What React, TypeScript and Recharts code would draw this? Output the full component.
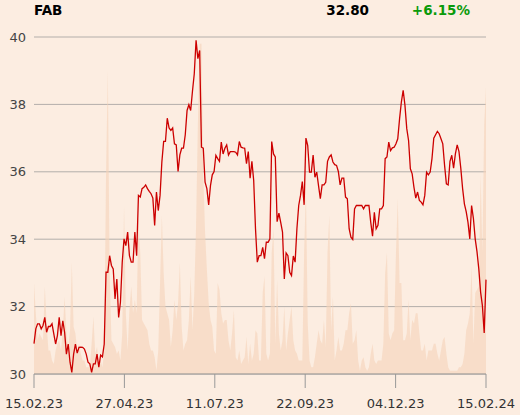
import { ComposedChart, Area, Line, XAxis, YAxis, CartesianGrid } from 'recharts';

// daily closing price, 15.02.23 - 15.02.24
const prices = [
  30.9, 31.34, 31.49, 31.49, 31.34, 31.44, 31.68, 31.24, 31.41, 31.41,
  31.49, 31.19, 30.89, 31.14, 31.68, 31.14, 31.58, 31.24, 30.59, 30.89,
  30.35, 30.05, 30.59, 30.89, 30.62, 30.79, 30.8, 30.79, 30.74, 30.59,
  30.35, 30.3, 30.05, 30.3, 30.3, 30.59, 30.2, 30.56, 30.51, 30.89,
  33.02, 33.02, 33.51, 33.22, 33.12, 32.23, 32.82, 31.68, 32.13, 33.32,
  34.01,
  33.81, 34.21, 33.51, 33.32, 33.32, 34.21, 33.51, 35.3, 35.25, 35.5,
  35.54, 35.61, 35.5, 35.42, 35.35, 35.22, 34.41, 35.4, 34.85, 35.3,
  36.29, 36.9, 36.9, 37.59, 37.3, 37.23, 37.3, 36.83, 36.8, 36.01,
  36.5, 36.7, 36.7, 37.1, 37.82, 37.99, 37.82, 38.39, 38.91, 39.9,
  39.36, 39.6, 36.73, 36.7, 35.69, 35.5, 35.02, 35.59, 35.91, 36.01,
  36.49, 36.39,
  36.31, 36.88, 36.53, 36.7, 36.8, 36.5, 36.6, 36.6, 36.6, 36.58,
  36.5, 36.9, 36.73, 36.71, 36.7, 36.24, 36.6, 35.81, 36.31, 35.74,
  34.31, 33.32, 33.51, 33.51, 33.76, 33.42, 33.91, 33.91, 34.01, 36.9,
  36.53, 36.44, 34.52, 34.77, 34.5, 34.21, 32.82, 33.59, 33.51, 33.02,
  32.92, 33.5, 33.32, 34.31, 35.0, 35.3, 35.71, 35.02,
  37.0, 36.78, 35.99, 35.99, 36.5, 35.84, 35.99, 35.59, 35.2, 35.61,
  35.61, 35.69, 36.31, 36.44, 36.5, 36.29, 36.21, 36.19, 36.01, 35.61,
  35.81, 35.81, 35.25, 35.2, 34.31, 34.06, 33.99, 34.9, 35.0, 35.0,
  35.0, 35.0, 34.9, 35.0, 35.0, 35.0, 34.5, 34.09, 34.8, 34.31,
  34.41, 34.9, 34.9, 35.0, 36.39, 36.44, 36.88, 36.63, 36.71, 36.73,
  36.83, 36.98,
  37.57, 38.07, 38.42, 37.97, 37.28, 36.93, 36.09, 35.94, 35.54, 35.22,
  35.4, 35.15, 35.1, 35.02, 35.3, 35.99, 35.91, 35.99, 36.39, 37.0,
  37.1, 37.2, 37.13, 36.98, 36.83, 36.19, 35.64, 35.61, 36.31, 36.49,
  36.11, 36.53, 36.8, 36.6, 36.11, 35.51, 35.05, 34.82, 34.5, 34.01,
  35.0, 34.62, 34.01, 33.63, 33.12, 32.43, 32.03, 31.22, 32.8,
];

// traded volume (relative)
const volumes = [
  27, 18, 10, 12, 11, 10, 26, 15, 7, 7,
  4, 3, 7, 9, 10, 7, 13, 23, 12, 8,
  13, 33, 14, 12, 7, 9, 6, 4, 4, 2,
  2, 2, 9, 17, 6, 8, 3, 4, 2, 7,
  59, 90, 30, 10, 9, 8, 6, 7, 4, 12,
  50, 18, 7, 19,
  26, 18, 22, 18, 46, 36, 16, 15, 14, 13,
  9, 7, 7, 5, 1, 7, 27, 47, 30, 20,
  18, 16, 8, 13, 22, 16, 21, 33, 14, 7,
  9, 10, 16, 29, 13, 24, 44, 74, 98, 98,
  59, 42, 31, 21, 16, 14, 7, 6, 27, 25,
  18, 15, 16, 16, 10, 7, 12, 19, 5, 4,
  7, 3, 4, 5, 11, 3, 9, 4, 6, 13,
  12, 4, 4, 24, 29, 6, 4, 6, 36, 43,
  9, 28, 12, 7, 10, 20, 7, 12, 16, 20,
  10, 7, 6, 4, 4, 4, 36, 55, 15, 4,
  2, 2, 5, 9, 13, 10, 9, 16, 8, 36,
  47, 13, 23, 4, 7, 11, 7, 7, 9, 13,
  13, 18, 21, 9, 10, 13, 4, 1, 4, 5,
  2, 1, 2, 6, 9, 4, 3, 4, 4, 4,
  9, 30, 36, 12, 10, 12, 13, 36, 52, 27,
  27, 10, 10, 12, 22, 10, 16, 15, 18, 18,
  12, 7, 7, 9, 4, 7, 7, 7, 9, 9,
  6, 4, 7, 10, 11, 6, 2, 1, 1, 1,
  1, 1, 2, 2, 3, 6, 13, 15, 18, 32,
  9, 24, 25, 26, 59, 36, 74, 85,
];

const dateLabels = ['15.02.23', '27.04.23', '11.07.23', '22.09.23', '04.12.23', '15.02.24'];
const priceTicks = [30, 32, 34, 36, 38, 40];

const data = prices.map((price, i) => ({ i, price, volume: volumes[i] }));
const last = prices.length - 1;
const step = last / (dateLabels.length - 1);
const dateTicks = dateLabels.map((_, k) => k * step);

const lastPrice = prices[last];
const change = (lastPrice / prices[0] - 1) * 100;

const font = "'DejaVu Sans', sans-serif";
const bg = '#fcede1';

const App = () => {
  return (
    <div style={{ position: 'absolute', left: 0, top: 0, width: 520, height: 415, background: bg, fontFamily: font }}>
      <ComposedChart width={520} height={415} data={data} margin={{ top: 37, right: 34, bottom: 0, left: 0 }}>
        <XAxis
          type='number'
          dataKey='i'
          domain={[0, last]}
          ticks={dateTicks}
          interval={0}
          tickFormatter={(v) => dateLabels[Math.round(v / step)]}
          height={41}
          tickSize={14}
          tickMargin={11}
          axisLine={{ stroke: '#999' }}
          tickLine={{ stroke: '#999' }}
          tick={{ fill: '#333', fontSize: 13, fontFamily: font }}
        />
        <YAxis
          domain={[30, 40]}
          ticks={priceTicks}
          interval={0}
          width={34}
          axisLine={false}
          tickLine={false}
          tick={{ fill: '#444', fontSize: 13, fontFamily: font }}
        />
        <YAxis yAxisId='vol' hide domain={[0, 100]} />
        <Area
          yAxisId='vol'
          type='linear'
          dataKey='volume'
          stroke='none'
          fill='#f5d3ba'
          fillOpacity={0.62}
          isAnimationActive={false}
        />
        <CartesianGrid vertical={false} stroke='#b3aeaa' />
        <Line
          type='linear'
          dataKey='price'
          stroke='#cc0000'
          strokeWidth={1.3}
          dot={false}
          isAnimationActive={false}
        />
      </ComposedChart>
      <div style={{ position: 'absolute', left: 34, top: 4, fontSize: 13.5, fontWeight: 'bold', lineHeight: 1, color: '#000' }}>
        FAB
      </div>
      <div style={{ position: 'absolute', right: 151, top: 4, fontSize: 13.5, fontWeight: 'bold', lineHeight: 1, color: '#000' }}>
        {lastPrice.toFixed(2)}
      </div>
      <div style={{ position: 'absolute', right: 50, top: 4, fontSize: 13.5, fontWeight: 'bold', lineHeight: 1, color: '#0a9a0a' }}>
        {(change >= 0 ? '+' : '') + change.toFixed(2) + '%'}
      </div>
    </div>
  );
};

export default App;
